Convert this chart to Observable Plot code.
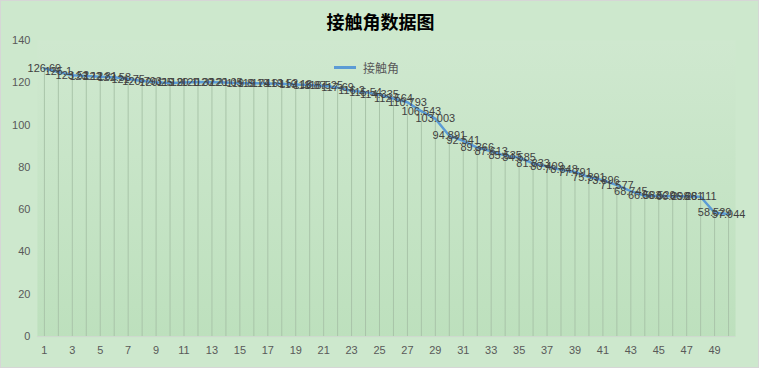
<!DOCTYPE html>
<html>
<head>
<meta charset="utf-8">
<script src="https://cdn.jsdelivr.net/npm/d3@7"></script>
<script src="https://cdn.jsdelivr.net/npm/@observablehq/plot@0.6"></script>
<style>
  html, body { margin: 0; padding: 0; background: #cfe8cf; }
  #wrap { position: relative; width: 759px; height: 368px; box-sizing: border-box; border: 1px solid #d6d6d6; background: #cde8cd; overflow: hidden; }
  #wrap svg { position: absolute; left: -1px; top: -1px; }
  #title { position: absolute; left: 0; width: 759px; top: 7px; text-align: center; font-family: "Noto Sans CJK SC", sans-serif; font-weight: bold; font-size: 18px; color: #000; }
  #legend { position: absolute; left: 333px; top: 58px; display: flex; align-items: center; font-family: "Noto Sans CJK SC", sans-serif; font-size: 12px; color: #595959; }
  #legend .sw { width: 22px; height: 3px; background: #5b9bd5; margin-right: 7px; }
</style>
</head>
<body>
<div id="wrap">
  <div id="chart"></div>
  <div id="title"></div>
  <div id="legend"><span class="sw"></span><span id="legText"></span></div>
</div>
<script>
const titleText = "接触角数据图";
const seriesName = "接触角";
const categories = d3.range(1, 51);
const values = [
  126.69, 125.1, 123.52, 123.12, 122.81, 122.53, 121.75, 120.793, 120.25, 119.9,
  120.1, 120.32, 120.21, 120.05, 119.8, 119.74, 119.61, 119.52, 119.13, 118.87,
  118.525, 117.69, 116.2, 115.54, 114.335, 112.564, 110.793, 106.543, 103.003, 94.891,
  92.541, 89.366, 87.613, 85.535, 84.585, 81.833, 80.409, 78.848, 77.791, 75.391,
  73.896, 71.577, 68.745, 66.583, 66.529, 66.298, 66.281, 66.111, 58.529, 57.944
];
const yTicks = [0, 20, 40, 60, 80, 100, 120, 140];
const xTickLabels = categories.filter(c => c % 2 === 1);

const data = categories.map((c, i) => ({cat: c, value: values[i]}));

document.getElementById("title").textContent = titleText;
document.getElementById("legText").textContent = seriesName;

const chart = Plot.plot({
  width: 759,
  height: 368,
  marginLeft: 37,
  marginRight: 22,
  marginTop: 40,
  marginBottom: 31,
  style: {background: "transparent", fontFamily: "Liberation Sans, sans-serif", fontSize: "11px", color: "#595959"},
  x: {type: "point", domain: categories, padding: 0.5, align: 0.5, label: null, ticks: xTickLabels, tickSize: 0, tickPadding: 10},
  y: {domain: [0, 140], ticks: yTicks, label: null, tickSize: 0, tickPadding: 7},
  marks: [
    Plot.frame({fill: "url(#plotGrad)", stroke: "none"}),
    Plot.ruleX(data, {x: "cat", y1: 0, y2: "value", stroke: "#a9c4a9", strokeWidth: 1}),
    Plot.ruleY([0], {stroke: "#d0d8d0", strokeWidth: 1}),
    Plot.line(data, {x: "cat", y: "value", stroke: "#5b9bd5", strokeWidth: 2.5, curve: "linear"}),
    Plot.text(data, {x: "cat", y: "value", text: d => String(d.value), fill: "#404040", fontSize: 11})
  ]
});

const svg = d3.select(chart);
const defs = svg.insert("defs", ":first-child");
const g = defs.append("linearGradient").attr("id", "plotGrad").attr("x1", 0).attr("y1", 0).attr("x2", 0).attr("y2", 1);
g.append("stop").attr("offset", "0%").attr("stop-color", "#cfe8cf");
g.append("stop").attr("offset", "100%").attr("stop-color", "#bde0bd");

document.getElementById("chart").appendChild(chart);
</script>
</body>
</html>
